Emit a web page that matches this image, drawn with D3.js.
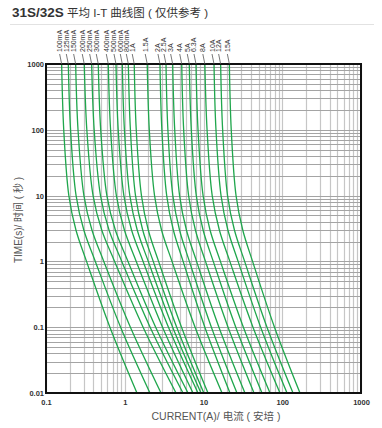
<!DOCTYPE html>
<html><head><meta charset="utf-8">
<script src="https://cdn.jsdelivr.net/npm/d3@7"></script>
<style>
html,body{margin:0;padding:0;background:#fff;}
svg{display:block;}
text{font-family:Arial,"Liberation Sans","Noto Sans CJK SC",sans-serif;}
</style></head>
<body>
<svg id="c" width="382" height="428"></svg>
<script>
// ---- data ----
const times = [1000, 100, 10, 3, 1, 0.1, 0.01];
const ratings = ["100mA","125mA","150mA","200mA","250mA","300mA","400mA","500mA","600mA","800mA","1A","1.5A","2A","2.5A","3A","4A","5A","6.3A","8A","10A","12A","15A"];
const currents = [
  [0.158,0.168,0.195,0.240,0.327,0.648,1.43],
  [0.192,0.205,0.241,0.302,0.423,0.886,2.09],
  [0.238,0.255,0.303,0.383,0.542,1.18,2.89],
  [0.306,0.330,0.396,0.510,0.743,1.71,4.48],
  [0.380,0.409,0.492,0.631,0.917,2.10,5.49],
  [0.461,0.495,0.593,0.759,1.10,2.47,6.36],
  [0.618,0.661,0.783,0.990,1.40,3.02,7.36],
  [0.774,0.826,0.975,1.22,1.71,3.59,8.52],
  [0.931,0.990,1.16,1.44,1.99,4.06,9.30],
  [1.11,1.18,1.37,1.69,2.30,4.57,10.1],
  [1.32,1.40,1.63,1.99,2.69,5.26,11.4],
  [1.93,2.05,2.39,2.93,3.98,7.82,17.2],
  [2.80,2.96,3.41,4.14,5.51,10.4,21.7],
  [3.34,3.53,4.08,4.96,6.62,12.6,26.6],
  [4.06,4.31,4.97,6.07,8.17,15.7,33.6],
  [5.29,5.60,6.47,7.89,10.6,20.5,43.8],
  [6.60,7.00,8.10,9.88,13.3,25.7,55.3],
  [8.03,8.52,9.88,12.1,16.4,32.1,69.9],
  [10.4,11.1,12.9,15.9,21.6,42.5,93.6],
  [13.6,14.4,16.7,20.4,27.5,53.2,115],
  [16.5,17.5,20.2,24.7,33.3,64.0,137],
  [21.3,22.5,25.9,31.5,42.0,79.7,168]
];
const xTicks = [0.1, 1, 10, 100, 1000];
const xTickLabels = ["0.1","1","10","100","1000"];
const yTicks = [0.01, 0.1, 1, 10, 100, 1000];
const yTickLabels = ["0.01","0.1","1","10","100","1000"];
const titleBold = "31S/32S";
const titleRest = " 平均 I-T 曲线图 ( 仅供参考 )";
const xTitle = "CURRENT(A)/ 电流 ( 安培 )";
const yTitle = "TIME(s)/ 时间 ( 秒 )";

// ---- layout ----
const L = 46, R = 361, T = 64, B = 393;
const svg = d3.select("#c");
const x = d3.scaleLog().domain([0.1, 1000]).range([L, R]);
const y = d3.scaleLog().domain([0.01, 1000]).range([B, T]);

// title
const tt = svg.append("text").attr("x", 12).attr("y", 17).attr("fill", "#333");
tt.append("tspan").attr("font-size", 13.5).attr("font-weight", "bold").text(titleBold);
tt.append("tspan").attr("font-size", 11.5).text(titleRest);
svg.append("line").attr("x1", 10).attr("x2", 374).attr("y1", 24.5).attr("y2", 24.5)
  .attr("stroke", "#e2e2e2").attr("stroke-width", 1);

// grid
const gridVals = (lo, hi) => {
  const out = [];
  for (let d = lo; d < hi * 0.999; d *= 10) for (let m = 1; m <= 9; m++) out.push(d * m);
  out.push(hi);
  return out;
};
const grid = svg.append("g");
grid.selectAll("line.v").data(gridVals(0.1, 1000)).join("line").attr("class","v")
  .attr("x1", d => Math.round(x(d)) + 0.5).attr("x2", d => Math.round(x(d)) + 0.5)
  .attr("y1", T).attr("y2", B).attr("stroke", "#c6c6c6").attr("stroke-width", 1.2);
grid.selectAll("line.h").data(gridVals(0.01, 1000)).join("line").attr("class","h")
  .attr("y1", d => Math.round(y(d)) + 0.5).attr("y2", d => Math.round(y(d)) + 0.5)
  .attr("x1", L).attr("x2", R).attr("stroke", "#a4a4a4").attr("stroke-width", 1);

// curves
svg.append("clipPath").attr("id", "clip").append("rect")
  .attr("x", L).attr("y", T).attr("width", R - L).attr("height", B - T);
const line = d3.line().x(d => x(d[0])).y(d => y(d[1])).curve(d3.curveCatmullRom.alpha(0.5));
svg.append("g").attr("clip-path", "url(#clip)").selectAll("path")
  .data(currents.map(row => row.map((c, i) => [c, times[i]])))
  .join("path").attr("d", line).attr("fill", "none")
  .attr("stroke", "#1fa64c").attr("stroke-width", 1.3);

// frame
svg.append("rect").attr("x", L).attr("y", T).attr("width", R - L).attr("height", B - T)
  .attr("fill", "none").attr("stroke", "#111").attr("stroke-width", 2);

// axes labels
const xAxis = d3.axisBottom(x).tickValues(xTicks).tickFormat((d, i) => xTickLabels[i]).tickSize(0).tickPadding(7);
const gx = svg.append("g").attr("transform", `translate(0,${B})`).call(xAxis);
gx.select(".domain").remove();
gx.selectAll("text").attr("font-size", 7.5).attr("fill", "#333").attr("font-weight", "bold")
  .style("font-family", "Arial, 'Liberation Sans', sans-serif");
const yAxis = d3.axisLeft(y).tickValues(yTicks).tickFormat((d, i) => yTickLabels[i]).tickSize(0).tickPadding(2);
const gy = svg.append("g").attr("transform", `translate(${L},0)`).call(yAxis);
gy.select(".domain").remove();
gy.selectAll("text").attr("font-size", 7.5).attr("fill", "#333").attr("font-weight", "bold")
  .style("font-family", "Arial, 'Liberation Sans', sans-serif");

// axis titles
svg.append("text").attr("x", 216).attr("y", 420).attr("text-anchor", "middle")
  .attr("font-size", 10.5).attr("fill", "#555").text(xTitle);
svg.append("text").attr("transform", "translate(22,220) rotate(-90)").attr("text-anchor", "middle")
  .attr("font-size", 10).attr("fill", "#555").text(yTitle);

// curve labels with leader lines
const lab = svg.append("g");
currents.forEach((row, i) => {
  const cx = x(row[0]);
  const lx = cx - 2;
  lab.append("line").attr("x1", lx).attr("y1", 54).attr("x2", cx).attr("y2", T)
    .attr("stroke", "#555").attr("stroke-width", 0.8);
  lab.append("text").attr("transform", `translate(${lx + 2.5},52) rotate(-90)`)
    .attr("font-size", 7).attr("fill", "#333").text(ratings[i]);
});
</script>
</body></html>
